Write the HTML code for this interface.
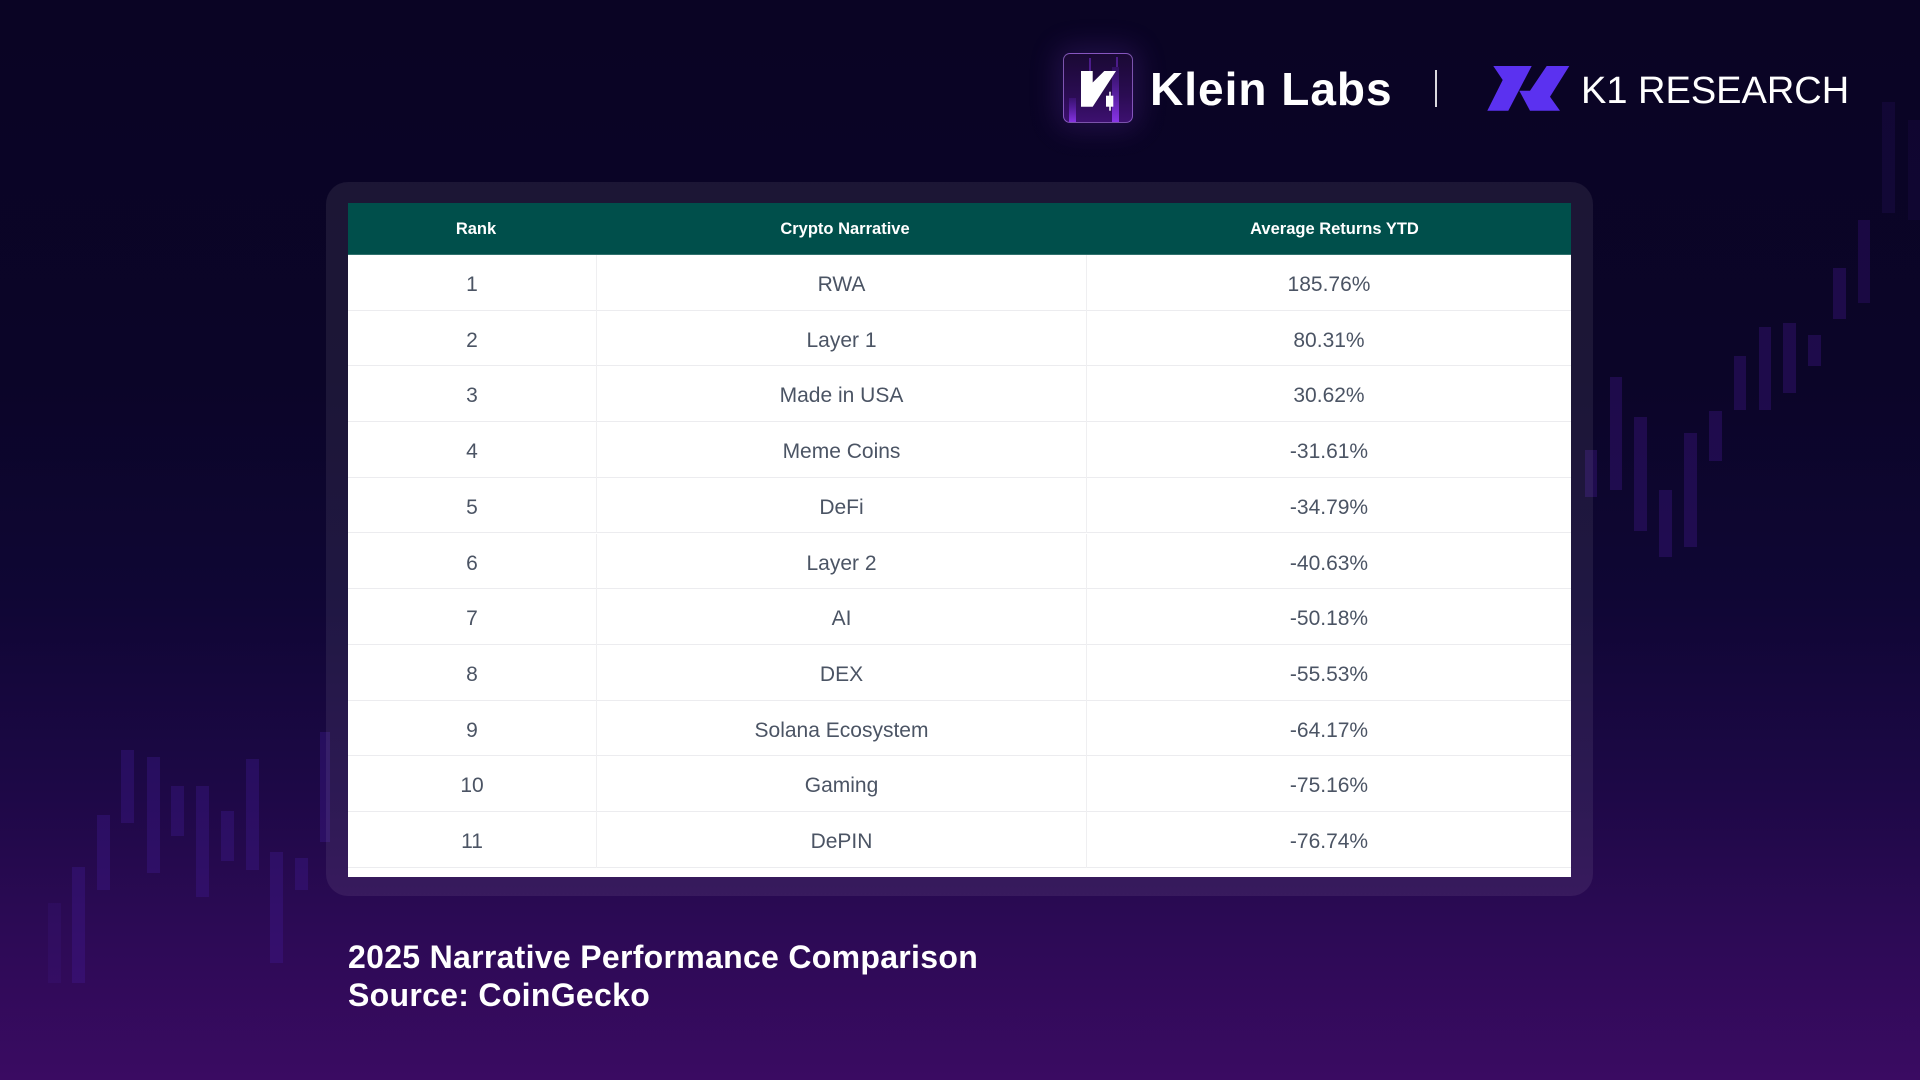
<!DOCTYPE html>
<html>
<head>
<meta charset="utf-8">
<style>
  html,body{margin:0;padding:0;}
  body{width:1920px;height:1080px;overflow:hidden;position:relative;
    background:linear-gradient(180deg,#0a0424 0%,#0b0528 35%,#0f0634 55%,#1c0845 72%,#2c0a55 86%,#3a0b62 100%);
    font-family:"Liberation Sans",Arial,sans-serif;}
  .c{position:absolute;}
  .lc{background:rgba(70,30,160,0.30);}
  .rc{background:rgba(70,25,150,0.32);}
  .card{position:absolute;left:326px;top:182px;width:1267px;height:714px;border-radius:22px;
    background:rgba(255,255,255,0.07);}
  .tbl{position:absolute;left:348px;top:203px;width:1223px;height:674px;background:#fff;overflow:hidden;}
  .hdr{position:absolute;left:0;top:0;width:1223px;height:52px;background:#004f4b;border-bottom:1px solid #2f716d;box-sizing:border-box;}
  .hdr div{position:absolute;top:0;height:52px;line-height:52px;text-align:center;color:#fff;font-weight:bold;font-size:16.5px;}
  .row{position:absolute;left:0;width:1223px;height:55.7px;border-bottom:1px solid #ececef;box-sizing:border-box;}
  .row div{position:absolute;top:0;height:55.7px;line-height:60.7px;text-align:center;color:#4b5464;font-size:21px;}
  .c1{left:0;width:248px;}
  .c2{left:248px;width:490px;border-left:1px solid #efeff1;box-sizing:border-box;}
  .c3{left:738px;width:485px;border-left:1px solid #efeff1;box-sizing:border-box;}
  .cap{position:absolute;left:348px;color:#fff;font-weight:bold;font-size:32px;line-height:38px;white-space:nowrap;letter-spacing:0.3px;}
</style>
</head>
<body>

<!-- left candles -->
<div class="c lc" style="left:48px;top:903px;width:13px;height:80px;opacity:0.5"></div>
<div class="c lc" style="left:72px;top:867px;width:13px;height:116px;"></div>
<div class="c lc" style="left:97px;top:815px;width:13px;height:75px;"></div>
<div class="c lc" style="left:121px;top:750px;width:13px;height:73px;"></div>
<div class="c lc" style="left:147px;top:757px;width:13px;height:116px;"></div>
<div class="c lc" style="left:171px;top:786px;width:13px;height:50px;"></div>
<div class="c lc" style="left:196px;top:786px;width:13px;height:111px;"></div>
<div class="c lc" style="left:221px;top:811px;width:13px;height:50px;"></div>
<div class="c lc" style="left:246px;top:759px;width:13px;height:111px;"></div>
<div class="c lc" style="left:270px;top:852px;width:13px;height:111px;"></div>
<div class="c lc" style="left:295px;top:858px;width:13px;height:32px;"></div>
<div class="c lc" style="left:320px;top:732px;width:10px;height:110px;"></div>

<!-- right candles -->
<div class="c rc" style="left:1585px;top:450px;width:12px;height:47px;"></div>
<div class="c rc" style="left:1610px;top:377px;width:12px;height:113px;"></div>
<div class="c rc" style="left:1634px;top:417px;width:13px;height:114px;"></div>
<div class="c rc" style="left:1659px;top:490px;width:13px;height:67px;"></div>
<div class="c rc" style="left:1684px;top:433px;width:13px;height:114px;"></div>
<div class="c rc" style="left:1709px;top:411px;width:13px;height:50px;"></div>
<div class="c rc" style="left:1734px;top:356px;width:12px;height:54px;"></div>
<div class="c rc" style="left:1759px;top:327px;width:12px;height:83px;"></div>
<div class="c rc" style="left:1783px;top:323px;width:13px;height:70px;"></div>
<div class="c rc" style="left:1808px;top:335px;width:13px;height:31px;"></div>
<div class="c rc" style="left:1833px;top:268px;width:13px;height:51px;"></div>
<div class="c rc" style="left:1858px;top:220px;width:12px;height:83px;opacity:0.8"></div>
<div class="c rc" style="left:1882px;top:102px;width:13px;height:111px;opacity:0.45"></div>
<div class="c rc" style="left:1908px;top:120px;width:12px;height:100px;opacity:0.3"></div>

<!-- header logos -->
<div class="c" style="left:1063px;top:53px;width:70px;height:70px;border-radius:7px;box-sizing:border-box;border:1px solid rgba(175,125,235,0.65);
  background:linear-gradient(180deg,#1a0934 0%,#2a0c52 60%,#3d1070 100%);box-shadow:0 0 28px 6px rgba(120,60,200,0.22);overflow:hidden;">
  <svg width="70" height="70" viewBox="0 0 70 70" style="position:absolute;left:-1px;top:-1px;">
    <defs>
      <linearGradient id="pb" x1="0" y1="1" x2="0" y2="0">
        <stop offset="0" stop-color="#8a35e8"/>
        <stop offset="1" stop-color="#5a1fb0" stop-opacity="0.3"/>
      </linearGradient>
    </defs>
    <rect x="6" y="45" width="7" height="25" fill="url(#pb)"/>
    <rect x="49" y="14" width="7" height="56" fill="url(#pb)"/>
    <rect x="26" y="5" width="2" height="13" fill="#6a28c0" opacity="0.6"/>
    <rect x="53" y="4" width="2" height="10" fill="#6a28c0" opacity="0.6"/>
    <polygon points="18,18 29.7,18 29.7,29.5 41.3,18 53,18 29.7,53.7 18,53.7" fill="#fff"/>
    <rect x="43" y="42.7" width="7.3" height="11" fill="#fff"/>
    <rect x="46.2" y="38.7" width="1.6" height="19" fill="#fff"/>
  </svg>
</div>
<div class="c" style="left:1150px;top:66px;font-size:46px;line-height:46px;font-weight:bold;color:#fff;letter-spacing:1px;white-space:nowrap;">Klein Labs</div>
<div class="c" style="left:1435px;top:70px;width:2px;height:37px;background:rgba(255,255,255,0.85);"></div>
<svg class="c" style="left:1480px;top:60px;" width="100" height="60" viewBox="0 0 100 60">
  <polygon points="13.3,6 51.7,6 28.3,50.7 7.3,50.7 22.7,20" fill="#5b31f0"/>
  <polygon points="66.7,6 89.3,6 70,36.7 80,50.7 50,50.7 39.3,30.7 50,30.7" fill="#5b31f0"/>
</svg>
<div class="c" style="left:1581px;top:72px;font-size:38px;line-height:38px;color:#fff;white-space:nowrap;">K1 RESEARCH</div>

<!-- card + table -->
<div class="card"></div>
<div class="tbl">
  <div class="hdr">
    <div class="c1" style="border:none;transform:translateX(4px)">Rank</div>
    <div class="c2" style="border:none;transform:translateX(4px)">Crypto Narrative</div>
    <div class="c3" style="border:none;transform:translateX(6px)">Average Returns YTD</div>
  </div>
  <div class="row" style="top:52px"><div class="c1">1</div><div class="c2">RWA</div><div class="c3">185.76%</div></div>
  <div class="row" style="top:107.7px"><div class="c1">2</div><div class="c2">Layer 1</div><div class="c3">80.31%</div></div>
  <div class="row" style="top:163.4px"><div class="c1">3</div><div class="c2">Made in USA</div><div class="c3">30.62%</div></div>
  <div class="row" style="top:219.1px"><div class="c1">4</div><div class="c2">Meme Coins</div><div class="c3">-31.61%</div></div>
  <div class="row" style="top:274.8px"><div class="c1">5</div><div class="c2">DeFi</div><div class="c3">-34.79%</div></div>
  <div class="row" style="top:330.5px"><div class="c1">6</div><div class="c2">Layer 2</div><div class="c3">-40.63%</div></div>
  <div class="row" style="top:386.2px"><div class="c1">7</div><div class="c2">AI</div><div class="c3">-50.18%</div></div>
  <div class="row" style="top:441.9px"><div class="c1">8</div><div class="c2">DEX</div><div class="c3">-55.53%</div></div>
  <div class="row" style="top:497.6px"><div class="c1">9</div><div class="c2">Solana Ecosystem</div><div class="c3">-64.17%</div></div>
  <div class="row" style="top:553.3px"><div class="c1">10</div><div class="c2">Gaming</div><div class="c3">-75.16%</div></div>
  <div class="row" style="top:609px"><div class="c1">11</div><div class="c2">DePIN</div><div class="c3">-76.74%</div></div>
</div>

<!-- caption -->
<div class="cap" style="top:938px;">2025 Narrative Performance Comparison</div>
<div class="cap" style="top:976px;">Source: CoinGecko</div>

</body>
</html>
